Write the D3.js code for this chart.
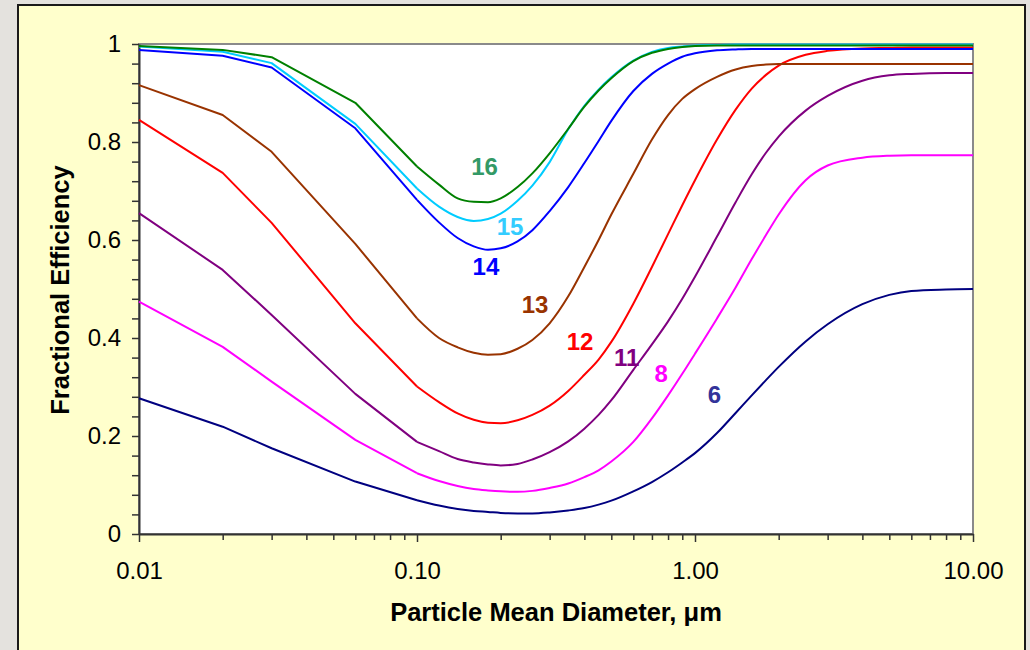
<!DOCTYPE html>
<html>
<head>
<meta charset="utf-8">
<script src="https://cdn.jsdelivr.net/npm/d3@7"></script>
<style>
    body { margin: 0; background: #e4e2de; }
    svg text { font-family: Arial, "Liberation Sans", sans-serif; }
</style>
</head>
<body>
<div id="chart"></div>
<script>
// particle diameters (um) shared by all curves
const diameters = [0.01, 0.02, 0.03, 0.06, 0.1, 0.12, 0.14, 0.16, 0.18, 0.2, 0.23, 0.26, 0.3, 0.35, 0.4, 0.45, 0.5,
    0.6, 0.7, 0.8, 0.9, 1.0, 1.2, 1.4, 1.6, 1.8, 2.0, 2.5, 3, 4, 5, 6, 8, 10];

const eff6 = [0.277, 0.219, 0.175, 0.107, 0.069, 0.058, 0.051, 0.047, 0.045, 0.043, 0.042, 0.042, 0.044, 0.048, 0.053, 0.060, 0.068,
    0.087, 0.106, 0.126, 0.146, 0.165, 0.206, 0.247, 0.283, 0.314, 0.341, 0.393, 0.428, 0.469, 0.488, 0.496, 0.499, 0.500];
const eff8 = [0.474, 0.382, 0.311, 0.192, 0.124, 0.108, 0.098, 0.092, 0.089, 0.087, 0.086, 0.088, 0.094, 0.103, 0.116, 0.130, 0.148,
    0.188, 0.236, 0.283, 0.327, 0.368, 0.440, 0.503, 0.561, 0.610, 0.652, 0.722, 0.752, 0.768, 0.772, 0.773, 0.773, 0.773];
const eff11 = [0.655, 0.539, 0.447, 0.286, 0.188, 0.169, 0.153, 0.146, 0.142, 0.140, 0.143, 0.152, 0.167, 0.189, 0.215, 0.243, 0.273,
    0.335, 0.387, 0.434, 0.480, 0.525, 0.607, 0.677, 0.734, 0.778, 0.811, 0.864, 0.894, 0.925, 0.936, 0.939, 0.941, 0.941];
const eff12 = [0.845, 0.737, 0.635, 0.430, 0.301, 0.269, 0.246, 0.233, 0.227, 0.226, 0.232, 0.243, 0.262, 0.292, 0.325, 0.356, 0.392,
    0.470, 0.545, 0.612, 0.671, 0.722, 0.805, 0.866, 0.909, 0.937, 0.956, 0.978, 0.986, 0.991, 0.992, 0.993, 0.993, 0.993];
const eff13 = [0.916, 0.855, 0.780, 0.592, 0.440, 0.400, 0.381, 0.370, 0.366, 0.367, 0.378, 0.396, 0.430, 0.485, 0.545, 0.600, 0.652,
    0.735, 0.805, 0.855, 0.888, 0.908, 0.933, 0.948, 0.955, 0.958, 0.959, 0.959, 0.959, 0.959, 0.959, 0.959, 0.959, 0.959];
const eff14 = [0.988, 0.976, 0.952, 0.828, 0.682, 0.636, 0.604, 0.587, 0.580, 0.583, 0.597, 0.620, 0.659, 0.708, 0.757, 0.802, 0.843,
    0.904, 0.939, 0.960, 0.974, 0.981, 0.987, 0.989, 0.990, 0.990, 0.990, 0.990, 0.990, 0.990, 0.990, 0.990, 0.990, 0.990];
const eff15 = [0.995, 0.984, 0.961, 0.837, 0.705, 0.668, 0.647, 0.639, 0.643, 0.654, 0.680, 0.711, 0.759, 0.826, 0.874, 0.907, 0.932,
    0.966, 0.984, 0.992, 0.995, 0.997, 0.998, 0.999, 0.999, 0.999, 0.999, 0.999, 0.999, 0.999, 0.999, 0.999, 0.999, 0.999];
const eff16 = [0.996, 0.988, 0.973, 0.880, 0.750, 0.713, 0.685, 0.678, 0.677, 0.685, 0.708, 0.736, 0.777, 0.827, 0.872, 0.905, 0.930,
    0.965, 0.982, 0.990, 0.994, 0.996, 0.997, 0.997, 0.997, 0.997, 0.997, 0.997, 0.997, 0.997, 0.997, 0.997, 0.997, 0.997];

const seriesNames = ["6", "8", "11", "12", "13", "14", "15", "16"];
const seriesValues = [eff6, eff8, eff11, eff12, eff13, eff14, eff15, eff16];
const lineColors = ["#000080", "#ff00ff", "#800080", "#ff0000", "#993300", "#0000ff", "#00ccff", "#008000"];
const labelColors = ["#333399", "#ff00ff", "#800080", "#ff0000", "#993300", "#0000ff", "#33ccff", "#339966"];
// curve labels, in data units (diameter, efficiency)
const labelX = [1.175, 0.755, 0.568, 0.386, 0.266, 0.177, 0.216, 0.175];
const labelY = [0.285, 0.327, 0.360, 0.394, 0.469, 0.547, 0.627, 0.751];

const yTicks = [0, 0.2, 0.4, 0.6, 0.8, 1];
const yTickLabels = ["0", "0.2", "0.4", "0.6", "0.8", "1"];
const xTicks = [0.01, 0.1, 1, 10];
const xTickLabels = ["0.01", "0.10", "1.00", "10.00"];

const W = 1030, H = 650;
const margin = {top: 44, right: 57, bottom: 116, left: 139};

const svg = d3.select("#chart").append("svg")
    .attr("width", W)
    .attr("height", H);

// yellow panel
svg.append("rect")
    .attr("x", 18).attr("y", 5)
    .attr("width", 1007).attr("height", 700)
    .attr("fill", "#ffffcc")
    .attr("stroke", "#1a1a1a")
    .attr("stroke-width", 2);

const x = d3.scaleLog()
    .domain([0.01, 10])
    .range([margin.left, W - margin.right]);
const y = d3.scaleLinear()
    .domain([0, 1])
    .range([H - margin.bottom, margin.top]);

// plot area
svg.append("rect")
    .attr("x", x(0.01)).attr("y", y(1))
    .attr("width", x(10) - x(0.01)).attr("height", y(0) - y(1))
    .attr("fill", "#fff")
    .attr("stroke", "#8a8a8a")
    .attr("stroke-width", 2);

// minor ticks
let yMinor = d3.range(0, 1.0001, 0.04);
let xMinor = [];
[0.01, 0.1, 1].forEach(function(dec) {
    for (let k = 1; k <= 9; k++) xMinor.push(dec * k);
});
xMinor.push(10);

const yAxis = svg.append("g")
    .attr("transform", `translate(${x(0.01)},0)`)
    .call(d3.axisLeft(y).tickValues(yMinor).tickSize(7).tickSizeOuter(0)
        .tickPadding(11)
        .tickFormat(function(d) {
            let i = yTicks.findIndex(t => Math.abs(t - d) < 1e-6);
            return i >= 0 ? yTickLabels[i] : "";
        }));

const xAxis = svg.append("g")
    .attr("transform", `translate(0,${y(0)})`)
    .call(d3.axisBottom(x).tickValues(xMinor).tickSize(6).tickSizeOuter(0)
        .tickPadding(22)
        .tickFormat(function(d) {
            let i = xTicks.findIndex(t => Math.abs(t - d) / t < 1e-6);
            return i >= 0 ? xTickLabels[i] : "";
        }));

[yAxis, xAxis].forEach(function(g) {
    g.select(".domain").attr("stroke", "#333").attr("stroke-width", 2);
    g.selectAll(".tick line").attr("stroke", "#333").attr("stroke-width", 1.5);
    g.selectAll(".tick text").attr("font-size", 24).attr("fill", "#000")
        .style("font-family", "Arial, 'Liberation Sans', sans-serif");
});
xAxis.selectAll(".tick line").filter(d => xTicks.some(t => Math.abs(t - d) / t < 1e-6)).attr("y2", 8);

// curves: straight segments up to 0.1 um, smooth after that
const nCoarse = 5;
const lineStraight = d3.line()
    .x((d, i) => x(diameters[i]))
    .y(d => y(d));
const lineSmooth = d3.line()
    .curve(d3.curveMonotoneX)
    .x((d, i) => x(diameters[i + nCoarse - 1]))
    .y(d => y(d));

const curves = svg.append("g")
    .selectAll("g")
    .data(seriesValues)
    .enter()
    .append("g")
    .attr("fill", "none")
    .attr("stroke", (d, i) => lineColors[i])
    .attr("stroke-width", 2)
    .attr("stroke-linejoin", "round");

curves.append("path")
    .attr("d", d => lineStraight(d.slice(0, nCoarse)));
curves.append("path")
    .attr("d", d => lineSmooth(d.slice(nCoarse - 1)));

// curve labels
svg.append("g")
    .selectAll("text")
    .data(seriesNames)
    .enter()
    .append("text")
    .attr("x", (d, i) => x(labelX[i]))
    .attr("y", (d, i) => y(labelY[i]))
    .attr("dy", "0.36em")
    .attr("text-anchor", "middle")
    .attr("font-size", 24)
    .attr("font-weight", "bold")
    .attr("fill", (d, i) => labelColors[i])
    .text(d => d);

// axis titles
svg.append("text")
    .attr("x", 556)
    .attr("y", 621)
    .attr("text-anchor", "middle")
    .attr("font-size", 25.5)
    .attr("font-weight", "bold")
    .text("Particle Mean Diameter, \u03bcm");

svg.append("text")
    .attr("transform", "translate(69,290) rotate(-90)")
    .attr("text-anchor", "middle")
    .attr("font-size", 25.5)
    .attr("font-weight", "bold")
    .text("Fractional Efficiency");
</script>
</body>
</html>
